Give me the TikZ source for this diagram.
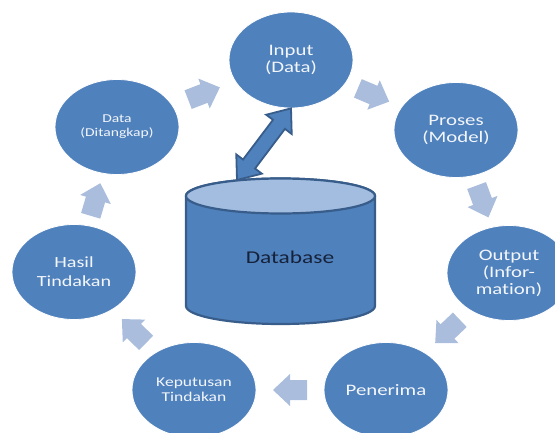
\documentclass[tikz,border=0pt]{standalone}
\usepackage{fontspec}
\setmainfont{Carlito}[Ligatures={NoCommon}]
\usetikzlibrary{calc,shapes.geometric}
\definecolor{bub}{HTML}{4F81BD}
\definecolor{bdr}{HTML}{385D8A}
\definecolor{topc}{HTML}{A2BDE0}
\definecolor{blkc}{HTML}{ABBDDC}
\definecolor{dbtxt}{HTML}{16223A}
\definecolor{wtxt}{HTML}{F3F6FB}
\newcommand\xs[1]{\scalebox{1.3}[1]{#1}}
\newcommand\cyc[2]{\path let \p1=($(#2)-(#1)$), \n1={atan2(\y1,\x1)} in pic[rotate=\n1] at ($(#1)!0.5!(#2)$) {blk};}
\tikzset{
  bubble/.style={ellipse, fill=bub, draw=white, line width=0.8pt, minimum width=124pt, minimum height=95pt, inner sep=0pt, text=wtxt, align=center},
  fA/.style={font=\fontsize{16}{17}\selectfont},
  fB/.style={font=\fontsize{13.5}{15.3}\selectfont},
  fC/.style={font=\fontsize{12}{14}\selectfont},
  fH/.style={font=\fontsize{15.5}{19}\selectfont},
  blk/.pic={\fill[blkc] (-17,-10) -- (0,-10) -- (0,-16) -- (17,0) -- (0,16) -- (0,10) -- (-17,10) -- cycle;},
  cyl/.style={draw=bdr, line width=2.2pt},
  dbl/.style={draw=bdr, line width=1.8pt, fill=bub, line join=miter}
}
\begin{document}
\begin{tikzpicture}[x=1pt,y=1pt]
\clip (0,0) rectangle (555,432);
% database cylinder
\draw[cyl, fill=bub] (186,236) -- (186,126) arc[start angle=180, end angle=360, x radius=94.5, y radius=18] -- (375,236) arc[start angle=0, end angle=180, x radius=94.5, y radius=17.5] -- cycle;
\draw[cyl, fill=topc] (280.5,236) ellipse[x radius=94.5, y radius=17.5];
\node[font=\fontsize{18}{20}\selectfont, text=dbtxt] (db) at (290,175) {\xs{Database}};
\coordinate (dbtop) at (237,252);
% ellipses
\node[bubble, fA, minimum height=96pt] (input) at (291,372) {\xs{Input}\\\xs{(Data)}};
\node[bubble, fA] (proses) at (456,302) {\xs{Proses}\\\xs{(Model)}};
\node[bubble, fA] (output) at (509,159) {\xs{Output}\\\xs{(Infor-}\\\xs{mation)}};
\node[bubble, fA] (penerima) at (386,42) {\xs{Penerima}};
\node[bubble, fB] (keputusan) at (194,42) {\xs{Keputusan}\\\xs{Tindakan}};
\node[bubble, fH] (hasil) at (74,160) {\xs{Hasil}\\\xs{Tindakan}};
\node[bubble, fC] (data) at (117,305) {\xs{Data}\\\xs{(Ditangkap)}};
% cycle arrows
\cyc{data}{input}
\cyc{input}{proses}
\cyc{proses}{output}
\cyc{output}{penerima}
\cyc{penerima}{keputusan}
\cyc{keputusan}{hasil}
\cyc{hasil}{data}
% double arrow between database and input
\coordinate (itip) at (input.south);
\coordinate (h1) at ($(dbtop)!20pt!(itip)$);
\coordinate (h2) at ($(itip)!20pt!(dbtop)$);
\draw[dbl] (dbtop) -- ($(h1)!16pt!90:(itip)$) -- ($(h1)!7.5pt!90:(itip)$) -- ($(h2)!7.5pt!-90:(dbtop)$) -- ($(h2)!16pt!-90:(dbtop)$) -- (itip) -- ($(h2)!16pt!90:(dbtop)$) -- ($(h2)!7.5pt!90:(dbtop)$) -- ($(h1)!7.5pt!-90:(itip)$) -- ($(h1)!16pt!-90:(itip)$) -- cycle;
\end{tikzpicture}
\end{document}
